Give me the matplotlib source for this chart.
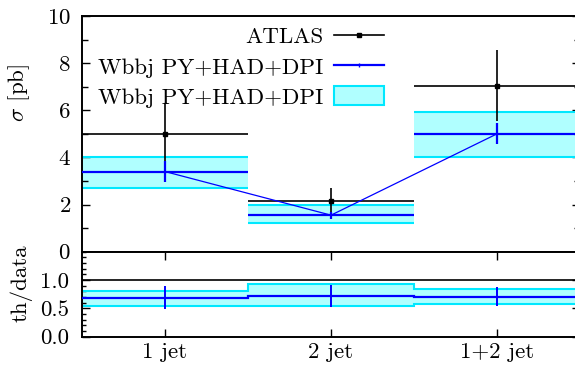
import matplotlib
matplotlib.use("Agg")
import matplotlib.pyplot as plt
from matplotlib.lines import Line2D
from matplotlib.patches import Patch
from matplotlib.ticker import MultipleLocator, FixedLocator, FormatStrFormatter
import numpy as np

plt.rcParams['font.family'] = ['cmr10', 'DejaVu Serif']
plt.rcParams['mathtext.fontset'] = 'cm'
plt.rcParams['axes.formatter.use_mathtext'] = True

categories = ['1 jet', '2 jet', '1+2 jet']
data = [5.0, 2.15, 7.05]
data_err = [1.3, 0.55, 1.5]
theory = [3.4, 1.55, 5.0]
theory_err = [0.45, 0.15, 0.45]
band_lo = [2.7, 1.2, 4.03]
band_hi = [4.03, 2.0, 5.92]
ratio = [0.69, 0.72, 0.705]
ratio_err = [0.2, 0.2, 0.17]
ratio_lo = [0.547, 0.547, 0.57]
ratio_hi = [0.806, 0.924, 0.84]

W, H = 575, 365
fig = plt.figure(figsize=(W / 100, H / 100), dpi=100)

left = 82 / W
right = 580 / W
top_main = 16
bot_main = 251.7
bot_ratio = 336.7
ax = fig.add_axes([left, 1 - bot_main / H, right - left, (bot_main - top_main) / H])
axr = fig.add_axes([left, 1 - bot_ratio / H, right - left, (bot_ratio - bot_main) / H])

x = np.arange(len(categories))
cyan_fill = '#b0ffff'
cyan_edge = '#00e8ff'
blue = '#0000ff'
fs = 16.5

# main panel
for i in x:
    ax.fill_between([i - 0.5, i + 0.5], band_lo[i], band_hi[i], color=cyan_fill, lw=0, zorder=1)
    ax.hlines([band_lo[i], band_hi[i]], i - 0.5, i + 0.5, color=cyan_edge, lw=1.5, zorder=2)
    ax.hlines(theory[i], i - 0.5, i + 0.5, color=blue, lw=1.6, zorder=3)
    ax.hlines(data[i], i - 0.5, i + 0.5, color='black', lw=1.2, zorder=4)
ax.errorbar(x, data, yerr=data_err, fmt='s', color='black', ms=3.5, elinewidth=1.2, capsize=0, zorder=4)
ax.errorbar(x, theory, yerr=theory_err, fmt='none', ecolor=blue, elinewidth=1.6, capsize=0, zorder=5)
ax.plot(x, theory, color=blue, lw=0.9, zorder=5)

ax.set_xlim(-0.5, 2.5)
ax.set_ylim(0, 10)
ax.set_xticks(x)
ax.set_xticklabels([])
ax.tick_params(axis='x', length=0)
ax.yaxis.set_major_locator(MultipleLocator(2))
ax.yaxis.set_minor_locator(MultipleLocator(1))
ax.tick_params(axis='y', which='both', direction='in', right=True, labelsize=fs, width=1, pad=8)
ax.tick_params(axis='y', which='major', length=6)
ax.tick_params(axis='y', which='minor', length=4)
ax.set_ylabel(r'$\sigma$ [pb]', fontsize=fs)
ax.yaxis.set_label_coords(-0.1, 0.673)
for s in ax.spines.values():
    s.set_linewidth(1.4)

handles = [
    Line2D([0], [0], color='black', lw=1.2, marker='s', ms=3.5),
    Line2D([0], [0], color=blue, lw=1.6, marker='|', ms=3),
    Patch(facecolor=cyan_fill, edgecolor=cyan_edge, lw=1.5),
]
labels = ['ATLAS', 'Wbbj PY+HAD+DPI', 'Wbbj PY+HAD+DPI']
ax.legend(handles, labels, loc='upper right', bbox_to_anchor=(384 / W, 1 - 26 / H),
          bbox_transform=fig.transFigure, frameon=False, markerfirst=False,
          fontsize=fs, handlelength=2.2, handleheight=0.9, handletextpad=0.45,
          labelspacing=0.38, borderpad=0, borderaxespad=0)

# ratio panel
axr.axhline(1.0, color='black', lw=1.2, zorder=1)
edges = np.arange(len(categories) + 1) - 0.5
axr.stairs(ratio_hi, edges, baseline=ratio_lo, fill=True, color=cyan_fill, lw=0, zorder=1)
axr.stairs(ratio_hi, edges, baseline=None, color=cyan_edge, lw=1.5, zorder=2)
axr.stairs(ratio_lo, edges, baseline=None, color=cyan_edge, lw=1.5, zorder=2)
axr.stairs(ratio, edges, baseline=None, color=blue, lw=1.6, zorder=3)
axr.errorbar(x, ratio, yerr=ratio_err, fmt='none', ecolor=blue, elinewidth=1.4, capsize=0, zorder=4)

axr.set_xlim(-0.5, 2.5)
axr.set_ylim(0, 1.5)
axr.set_xticks(x)
axr.set_xticklabels(categories, fontsize=fs)
axr.yaxis.set_major_locator(FixedLocator([0.0, 0.5, 1.0]))
axr.yaxis.set_minor_locator(MultipleLocator(0.1))
axr.yaxis.set_major_formatter(FormatStrFormatter('%.1f'))
axr.tick_params(axis='both', which='both', direction='in', right=True, top=True, labelsize=fs, width=1)
axr.tick_params(axis='y', pad=9)
axr.tick_params(axis='x', pad=4)
axr.tick_params(axis='both', which='major', length=6)
axr.tick_params(axis='y', which='minor', length=3)
axr.set_ylabel('th/data', fontsize=fs)
axr.yaxis.set_label_coords(-0.1, 0.63)
for s in axr.spines.values():
    s.set_linewidth(1.4)

fig.savefig('out.png', dpi=100)
